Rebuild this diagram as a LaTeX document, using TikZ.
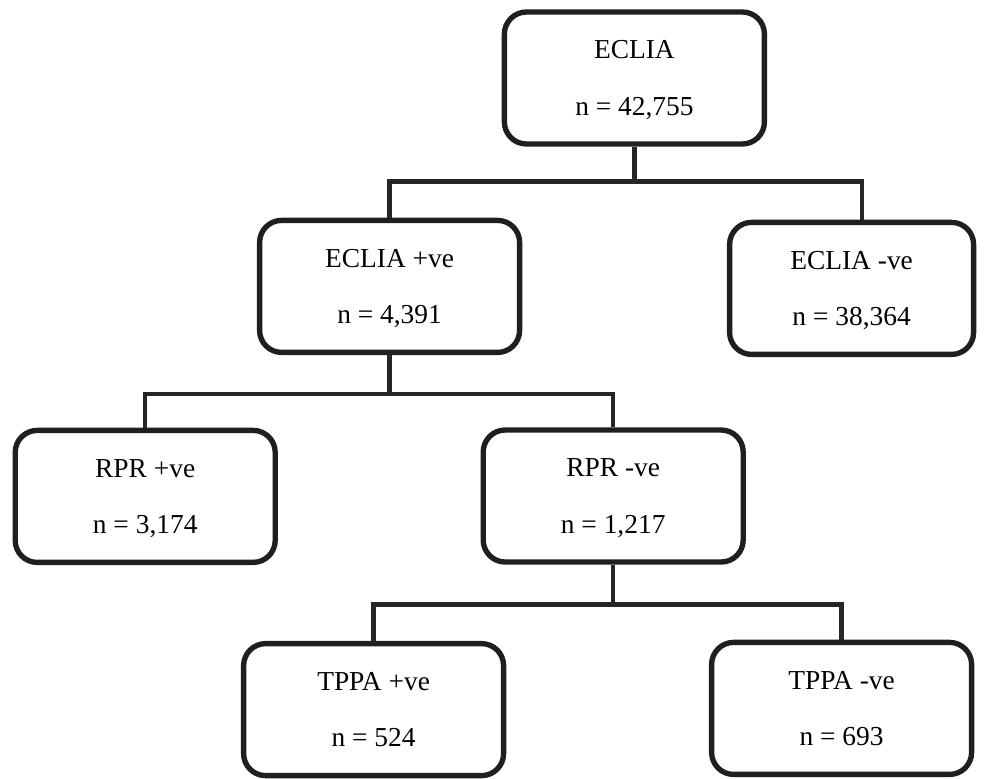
\documentclass[tikz,border=0pt]{standalone}
\usepackage{fontspec}
\setmainfont{Liberation Serif}
\usepackage{tikz}
\usetikzlibrary{calc}

\begin{document}
\begin{tikzpicture}[
  result/.style={draw=black!88, line width=3.8pt, rounded corners=0.55cm,
    minimum width=6.5cm, minimum height=3.3cm, inner sep=0pt,
    align=center, text depth=0pt, font=\fontsize{19.5}{40}\selectfont},
  link/.style={draw=black!85, line width=3.2pt}]
\useasboundingbox (0,0) rectangle (24.6,-19.45);
\node[result](eclia) at (15.86,-1.95) {ECLIA\\n = 42,755};
\node[result](eclpos) at (9.74,-7.16) {ECLIA +ve\\n = 4,391};
\node[result, minimum width=6.1cm](eclneg) at (21.29,-7.21) {ECLIA -ve\\n = 38,364};
\node[result](rprpos) at (3.63,-12.41) {RPR +ve\\n = 3,174};
\node[result](rprneg) at (15.33,-12.40) {RPR -ve\\n = 1,217};
\node[result](tppapos) at (9.34,-17.74) {TPPA +ve\\n = 524};
\node[result](tppaneg) at (21.04,-17.71) {TPPA -ve\\n = 693};
%
\draw[link](eclia.south) -- ++(0,-0.875) coordinate(split1);
\draw[link](split1) -| (eclpos.north);
\draw[link](split1) -| ([xshift=0.26cm]eclneg.north);
\draw[link](eclpos.south) -- ++(0,-0.975) coordinate(split2);
\draw[link](split2) -| (rprpos.north);
\draw[link](split2) -| (rprneg.north);
\draw[link](rprneg.south) -- ++(0,-1.0) coordinate(split3);
\draw[link](split3) -| (tppapos.north);
\draw[link](split3) -| (tppaneg.north);
\end{tikzpicture}
\end{document}
